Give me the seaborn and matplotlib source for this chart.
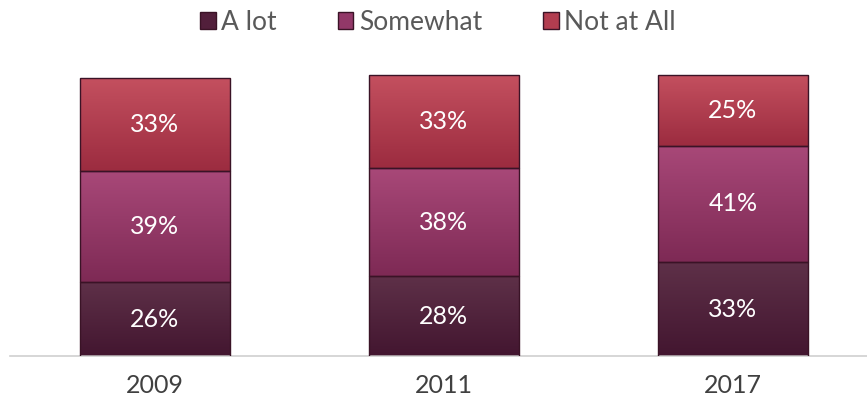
import matplotlib
matplotlib.use('Agg')
import matplotlib.pyplot as plt
import matplotlib.colors as mcolors
import seaborn as sns
import numpy as np
import pandas as pd
from matplotlib.patches import Patch

years = ['2009', '2011', '2017']
a_lot = [26, 28, 33]
somewhat = [39, 38, 41]
not_at_all = [33, 33, 25]

series_names = ['A lot', 'Somewhat', 'Not at All']
colors = ['#521f3b', '#923868', '#b23d50']
# light/dark ends for the shaded look of each segment
shade = [('#5e3048', '#431630'), ('#a84878', '#7e2a55'), ('#c4505f', '#9c2c40')]

sns.set_theme(style='white')
plt.rcParams['font.family'] = ['Lato', 'DejaVu Sans']

fig = plt.figure(figsize=(8.67, 4.04), dpi=100)
ax = fig.add_axes([0.012, 0.119, 1.0, 0.703])

bottom = np.zeros(len(years))
for k, (name, vals, col) in enumerate(zip(series_names, [a_lot, somewhat, not_at_all], colors)):
    df = pd.DataFrame({'year': years, 'value': vals})
    n_before = len(ax.patches)
    sns.barplot(data=df, x='year', y='value', color=col, width=0.52,
                bottom=bottom, edgecolor='#3a1326', linewidth=1.0,
                saturation=1, ax=ax)
    cmap = mcolors.LinearSegmentedColormap.from_list('g%d' % k, [shade[k][1], shade[k][0]])
    grad = np.linspace(0, 1, 64).reshape(-1, 1)
    for p in ax.patches[n_before:]:
        x0, y0 = p.get_x(), p.get_y()
        w, h = p.get_width(), p.get_height()
        im = ax.imshow(grad, cmap=cmap, origin='lower', aspect='auto',
                       extent=[x0, x0 + w, y0, y0 + h], zorder=2)
        im.set_clip_path(p)
        # keep the outline visible above the gradient
        p.set_facecolor('none')
        p.set_zorder(3)
    for i, v in enumerate(vals):
        ax.text(i, bottom[i] + v / 2, f'{v}%', ha='center', va='center',
                color='white', fontsize=18, zorder=5)
    bottom = bottom + np.array(vals)

ax.set_ylim(0, 100)
ax.set_xlim(-0.5, 2.5)
ax.set_xlabel('')
ax.set_ylabel('')
ax.set_yticks([])
ax.tick_params(axis='x', labelsize=18, colors='#404040', length=0, pad=13)
for s in ['top', 'right', 'left']:
    ax.spines[s].set_visible(False)
ax.spines['bottom'].set_color('#d0d0d0')
ax.spines['bottom'].set_linewidth(1.2)

handles = [Patch(facecolor=c, edgecolor='#3a1326', label=n) for n, c in zip(series_names, colors)]
fig.legend(handles=handles, loc='upper center', bbox_to_anchor=(0.505, 1.035), ncol=3,
           frameon=False, fontsize=19, handlelength=0.6, handleheight=0.6,
           handletextpad=0.2, columnspacing=2.3, labelcolor='#595959')

fig.savefig('out.png', dpi=100)
